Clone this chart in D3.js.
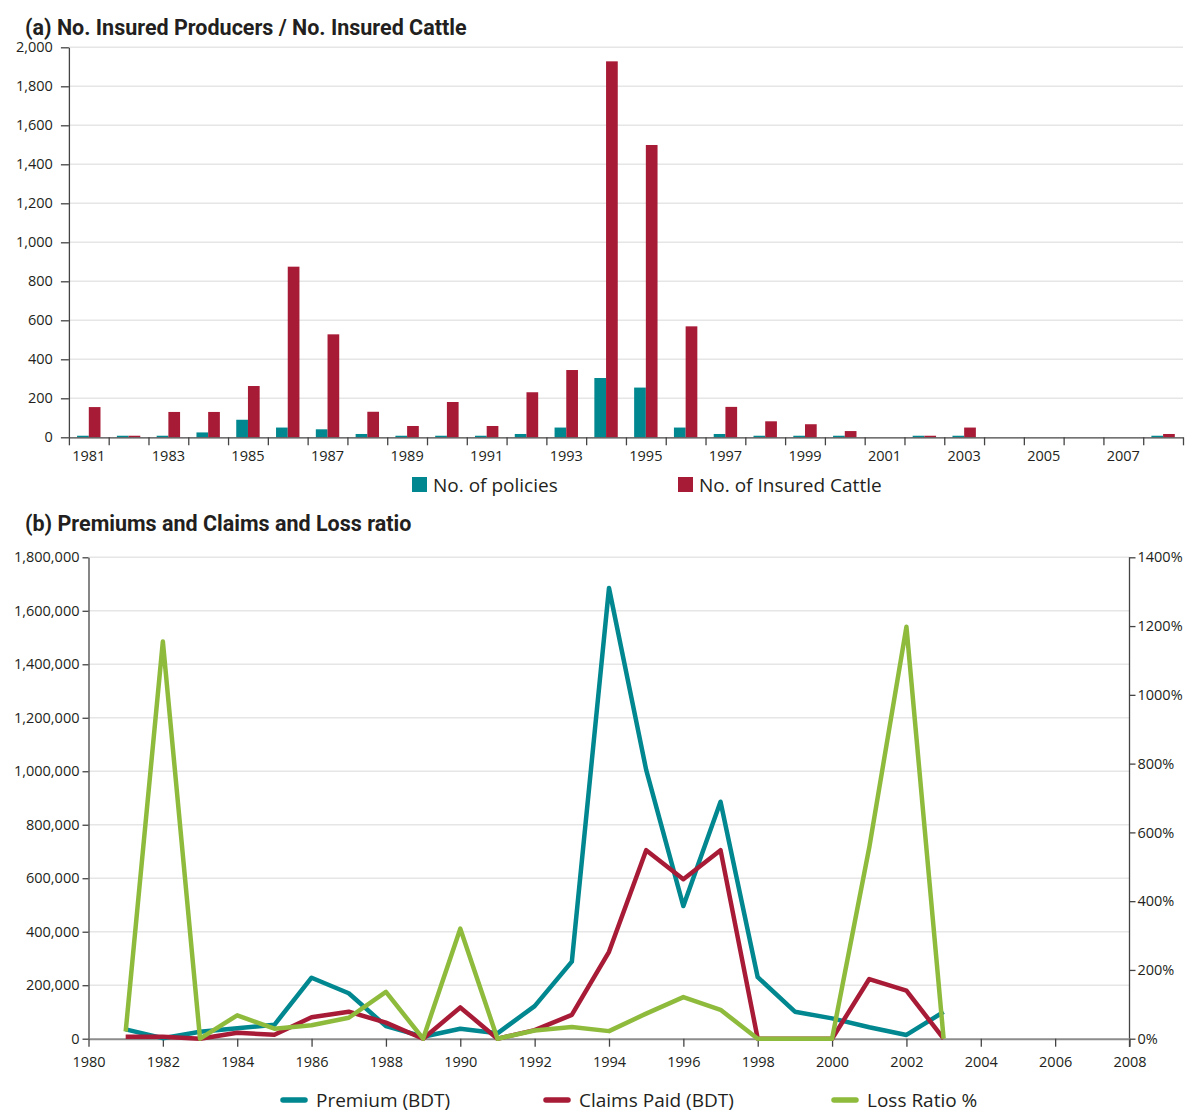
<!DOCTYPE html>
<html><head><meta charset="utf-8">
<script src="https://cdn.jsdelivr.net/npm/d3@7"></script>
<style>
body{margin:0;background:#fff}
svg{display:block}
.tick text{font-family:"Open Sans",sans-serif;font-size:14.5px;fill:#231f20}
.title{font-family:Roboto,sans-serif;font-weight:700;font-size:21.5px;fill:#231f20}
.leg{font-family:"Open Sans",sans-serif;font-size:19px;fill:#231f20}
</style>
</head><body>
<svg id="c" width="1189" height="1113"></svg>
<script>
// ---------- Data: panel (a) ----------
const barYears = [1981,1982,1983,1984,1985,1986,1987,1988,1989,1990,1991,1992,1993,1994,1995,1996,1997,1998,1999,2000,2001,2002,2003,2004,2005,2006,2007,2008];
const policies = [8,8,8,25,90,50,41,17,8,8,8,17,50,304,255,50,17,8,8,8,0,8,8,0,0,0,0,8];
const cattle   = [155,8,130,130,263,875,528,131,58,181,58,231,345,1928,1499,569,156,82,67,32,0,8,50,0,0,0,0,17];
const barSeries = ["No. of policies","No. of Insured Cattle"];
const topTicks = [0,200,400,600,800,1000,1200,1400,1600,1800,2000];

// ---------- Data: panel (b) ----------
const lineYears = [1981,1982,1983,1984,1985,1986,1987,1988,1989,1990,1991,1992,1993,1994,1995,1996,1997,1998,1999,2000,2001,2002,2003];
const premium   = [35000,2000,26000,39000,52000,228000,170000,47000,7500,37000,20000,122000,288000,1685000,1005000,496000,886000,230000,101000,76000,43000,14000,100000];
const claims    = [7500,7000,0,22000,15000,80000,101000,60000,0,117000,0,32000,89000,325000,705000,596000,705000,0,0,0,223000,180000,0];
const lossRatio = [21,1155,0,68,29,39,61,136,0,320,0,24,34,22,73,121,84,0,0,0,556,1198,0];
const lineSeries = ["Premium (BDT)","Claims Paid (BDT)","Loss Ratio %"];
const leftTicks = [0,200000,400000,600000,800000,1000000,1200000,1400000,1600000,1800000];
const rightTicks = [0,200,400,600,800,1000,1200,1400];
const xTicksB = [1980,1982,1984,1986,1988,1990,1992,1994,1996,1998,2000,2002,2004,2006,2008];

const TEAL = "#00878f", RED = "#a81b36", GREEN = "#8fbb3d";
const svg = d3.select("#c");

// ================= Panel (a) =================
svg.append("text").attr("class","title").attr("x",25).attr("y",34.5)
  .text("(a) No. Insured Producers / No. Insured Cattle");

const xTop = d3.scaleBand(barYears,[68.9,1183]);
const xSub = d3.scaleBand(["p","c"],[0,xTop.bandwidth()]).paddingOuter(0.7);
const yTop = d3.scaleLinear([0,2000],[437.3,47.3]);

const gA = svg.append("g");
gA.selectAll("line.grid").data(topTicks.filter(d=>d>0)).join("line")
  .attr("x1",68.9).attr("x2",1183).attr("y1",d=>yTop(d)).attr("y2",d=>yTop(d))
  .attr("stroke","#e6e6e6").attr("stroke-width",1.5);

const groups = gA.selectAll("g.yr").data(barYears).join("g")
  .attr("transform",d=>`translate(${xTop(d)},0)`);
groups.append("rect")
  .attr("x",xSub("p")).attr("width",xSub.bandwidth())
  .attr("y",(d,i)=>yTop(policies[i])).attr("height",(d,i)=>yTop(0)-yTop(policies[i]))
  .attr("fill",TEAL);
groups.append("rect")
  .attr("x",xSub("c")).attr("width",xSub.bandwidth())
  .attr("y",(d,i)=>yTop(cattle[i])).attr("height",(d,i)=>yTop(0)-yTop(cattle[i]))
  .attr("fill",RED);

const yAxA = gA.append("g").attr("transform","translate(68.9,0)")
  .call(d3.axisLeft(yTop).tickValues(topTicks).tickSize(8).tickPadding(8).tickFormat(d3.format(",")).tickSizeOuter(0));
// x axis: ticks at category boundaries
const xBound = d3.scaleLinear([1980.5,2008.5],[68.9,1183]);
const xAxA = gA.append("g").attr("transform","translate(0,437.3)")
  .call(d3.axisBottom(xBound).tickValues(d3.range(1980.5,2009,1)).tickSize(8).tickFormat("").tickSizeOuter(0));
const xLabA = gA.append("g").attr("transform","translate(0,437.3)")
  .call(d3.axisBottom(xTop).tickSize(0).tickPadding(13).tickFormat(d=>d%2===1?d:""));
xLabA.select(".domain").remove();
[yAxA,xAxA].forEach(a=>{a.selectAll("path,line").attr("stroke","#444").attr("stroke-width",1.3);});

// legend (a)
const legA = svg.append("g");
[[412,TEAL,barSeries[0]],[678,RED,barSeries[1]]].forEach(([x,c,t])=>{
  legA.append("rect").attr("x",x).attr("y",477).attr("width",15).attr("height",15).attr("fill",c);
  legA.append("text").attr("class","leg").attr("x",x+21).attr("y",485).attr("dy","0.35em").text(t);
});

// ================= Panel (b) =================
svg.append("text").attr("class","title").attr("x",25).attr("y",531)
  .text("(b) Premiums and Claims and Loss ratio");

const xB = d3.scaleLinear([1980,2008],[88.5,1129.5]);
const yL = d3.scaleLinear([0,1800000],[1038.7,557.3]);
const yR = d3.scaleLinear([0,1400],[1038.7,557.3]);

const gB = svg.append("g");
gB.selectAll("line.grid").data(leftTicks.filter(d=>d>0)).join("line")
  .attr("x1",88.5).attr("x2",1129.5).attr("y1",d=>yL(d)).attr("y2",d=>yL(d))
  .attr("stroke","#e6e6e6").attr("stroke-width",1.5);

const axL = gB.append("g").attr("transform","translate(88.5,0)")
  .call(d3.axisLeft(yL).tickValues(leftTicks).tickSize(6).tickPadding(3).tickFormat(d3.format(",")).tickSizeOuter(0));
const axR = gB.append("g").attr("transform","translate(1129.5,0)")
  .call(d3.axisRight(yR).tickValues(rightTicks).tickSize(6).tickPadding(2).tickFormat(d=>d+"%").tickSizeOuter(0));
const axX = gB.append("g").attr("transform","translate(0,1038.7)")
  .call(d3.axisBottom(xB).tickValues(xTicksB).tickSize(8).tickPadding(10).tickFormat(d3.format("d")).tickSizeOuter(0));
[axL,axR,axX].forEach(a=>{a.selectAll("path,line").attr("stroke","#444").attr("stroke-width",1.3);});
axX.select(".domain").attr("stroke","#8c8c8c").attr("stroke-width",2);
axR.select(".domain").attr("d","M0,557.3V1047");

const mk = (vals,y)=>d3.line().x((d,i)=>xB(lineYears[i])).y(d=>y(d))(vals);
[[premium,yL,TEAL],[claims,yL,RED],[lossRatio,yR,GREEN]].forEach(([v,y,c])=>{
  gB.append("path").attr("d",mk(v,y)).attr("fill","none").attr("stroke",c)
    .attr("stroke-width",4.5).attr("stroke-linejoin","round");
});

// legend (b)
const legB = svg.append("g");
[[283,TEAL,lineSeries[0]],[546,RED,lineSeries[1]],[834,GREEN,lineSeries[2]]].forEach(([x,c,t])=>{
  legB.append("line").attr("x1",x).attr("x2",x+22).attr("y1",1100).attr("y2",1100)
    .attr("stroke",c).attr("stroke-width",5.5).attr("stroke-linecap","round");
  legB.append("text").attr("class","leg").attr("x",x+33).attr("y",1100).attr("dy","0.35em").text(t);
});
</script>
</body></html>
